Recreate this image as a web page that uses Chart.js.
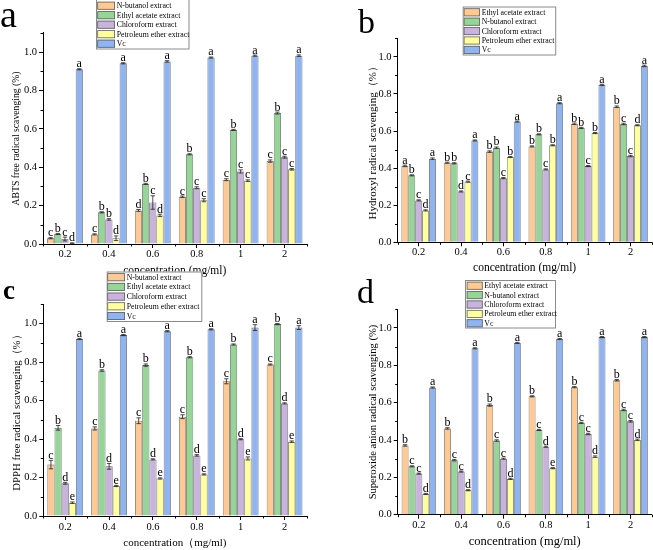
<!DOCTYPE html>
<html><head><meta charset="utf-8">
<script src="https://cdn.jsdelivr.net/npm/chart.js@4.4.1/dist/chart.umd.min.js"></script>
<style>
html,body{margin:0;padding:0;background:#fff;}
#wrap{position:relative;width:653px;height:550px;overflow:hidden;background:#fff;}
canvas{position:absolute;left:0;top:0;}
</style></head><body>
<div id="wrap">
<canvas id="ca" width="653" height="550"></canvas>
<canvas id="cb" width="653" height="550"></canvas>
<canvas id="cc" width="653" height="550"></canvas>
<canvas id="cd" width="653" height="550"></canvas>
</div>
<script>
// ---------- DATA ----------
const categories = ['0.2', '0.4', '0.6', '0.8', '1', '2'];
const seriesAC = ['N-butanol extract', 'Ethyl acetate extract', 'Chloroform extract', 'Petroleum ether extract', 'Vc'];
const seriesBD = ['Ethyl acetate extract', 'N-butanol extract', 'Chloroform extract', 'Petroleum ether extract', 'Vc'];
const yTicks = [0, 0.2, 0.4, 0.6, 0.8, 1.0];

// Panel a: ABTS
const abtsButanol = [0.030, 0.050, 0.175, 0.246, 0.335, 0.432];
const abtsEthyl   = [0.052, 0.165, 0.313, 0.467, 0.594, 0.682];
const abtsChloro  = [0.026, 0.128, 0.216, 0.293, 0.378, 0.452];
const abtsPetro   = [0.004, 0.030, 0.149, 0.228, 0.330, 0.389];
const abtsVc      = [0.910, 0.941, 0.951, 0.971, 0.981, 0.981];
const abtsButanolErr = [0.003, 0.003, 0.005, 0.004, 0.005, 0.006];
const abtsEthylErr   = [0.003, 0.003, 0.003, 0.003, 0.003, 0.005];
const abtsChloroErr  = [0.010, 0.004, 0.035, 0.005, 0.008, 0.005];
const abtsPetroErr   = [0.002, 0.012, 0.006, 0.008, 0.004, 0.004];
const abtsVcErr      = [0.003, 0.003, 0.004, 0.003, 0.003, 0.004];
const abtsButanolSig = ['c', 'c', 'd', 'c', 'c', 'c'];
const abtsEthylSig   = ['b', 'b', 'b', 'b', 'b', 'b'];
const abtsChloroSig  = ['c', 'b', 'c', 'c', 'c', 'c'];
const abtsPetroSig   = ['d', 'd', 'd', 'c', 'c', 'c'];
const abtsVcSig      = ['a', 'a', 'a', 'a', 'a', 'a'];

// Panel b: Hydroxyl
const ohEthyl   = [0.412, 0.429, 0.489, 0.517, 0.639, 0.731];
const ohButanol = [0.361, 0.426, 0.510, 0.582, 0.617, 0.638];
const ohChloro  = [0.226, 0.274, 0.346, 0.393, 0.411, 0.465];
const ohPetro   = [0.172, 0.327, 0.460, 0.523, 0.589, 0.631];
const ohVc      = [0.451, 0.549, 0.651, 0.750, 0.849, 0.951];
const ohEthylErr   = [0.004, 0.003, 0.004, 0.003, 0.004, 0.004];
const ohButanolErr = [0.003, 0.003, 0.004, 0.003, 0.003, 0.004];
const ohChloroErr  = [0.003, 0.003, 0.003, 0.003, 0.003, 0.004];
const ohPetroErr   = [0.003, 0.003, 0.003, 0.003, 0.003, 0.003];
const ohVcErr      = [0.004, 0.003, 0.003, 0.003, 0.003, 0.004];
const ohEthylSig   = ['a', 'b', 'b', 'b', 'b', 'b'];
const ohButanolSig = ['b', 'b', 'b', 'b', 'b', 'c'];
const ohChloroSig  = ['c', 'd', 'c', 'c', 'c', 'c'];
const ohPetroSig   = ['d', 'c', 'b', 'b', 'b', 'd'];
const ohVcSig      = ['a', 'a', 'a', 'a', 'a', 'a'];

// Panel c: DPPH
const dpphButanol = [0.267, 0.455, 0.495, 0.516, 0.700, 0.787];
const dpphEthyl   = [0.458, 0.756, 0.784, 0.825, 0.891, 0.997];
const dpphChloro  = [0.170, 0.258, 0.294, 0.315, 0.399, 0.585];
const dpphPetro   = [0.069, 0.156, 0.195, 0.216, 0.299, 0.386];
const dpphVc      = [0.920, 0.940, 0.960, 0.970, 0.979, 0.979];
const dpphButanolErr = [0.022, 0.008, 0.015, 0.010, 0.013, 0.003];
const dpphEthylErr   = [0.012, 0.004, 0.006, 0.003, 0.003, 0.003];
const dpphChloroErr  = [0.005, 0.015, 0.003, 0.004, 0.003, 0.003];
const dpphPetroErr   = [0.004, 0.003, 0.003, 0.003, 0.008, 0.004];
const dpphVcErr      = [0.003, 0.003, 0.003, 0.003, 0.015, 0.010];
const dpphButanolSig = ['c', 'c', 'c', 'c', 'c', 'c'];
const dpphEthylSig   = ['b', 'b', 'b', 'b', 'b', 'b'];
const dpphChloroSig  = ['d', 'd', 'd', 'd', 'd', 'd'];
const dpphPetroSig   = ['e', 'e', 'e', 'e', 'e', 'e'];
const dpphVcSig      = ['a', 'a', 'a', 'a', 'a', 'a'];

// Panel d: Superoxide anion
const soEthyl   = [0.371, 0.462, 0.587, 0.634, 0.683, 0.720];
const soButanol = [0.259, 0.292, 0.397, 0.454, 0.492, 0.561];
const soChloro  = [0.220, 0.231, 0.300, 0.364, 0.432, 0.500];
const soPetro   = [0.111, 0.131, 0.192, 0.249, 0.311, 0.401];
const soVc      = [0.681, 0.891, 0.920, 0.941, 0.951, 0.951];
const soEthylErr   = [0.004, 0.004, 0.006, 0.003, 0.003, 0.004];
const soButanolErr = [0.003, 0.004, 0.004, 0.003, 0.003, 0.004];
const soChloroErr  = [0.003, 0.003, 0.003, 0.003, 0.004, 0.004];
const soPetroErr   = [0.003, 0.003, 0.003, 0.003, 0.004, 0.004];
const soVcErr      = [0.003, 0.003, 0.003, 0.003, 0.003, 0.003];
const soEthylSig   = ['b', 'b', 'b', 'b', 'b', 'b'];
const soButanolSig = ['c', 'c', 'c', 'c', 'c', 'c'];
const soChloroSig  = ['c', 'c', 'c', 'd', 'c', 'c'];
const soPetroSig   = ['d', 'd', 'd', 'e', 'd', 'd'];
const soVcSig      = ['a', 'a', 'a', 'a', 'a', 'a'];

// ---------- STYLE ----------
const fills = ['#FFC993', '#96D497', '#C8B3DD', '#FFFF9F', '#8FB4F0'];
const edge = '#606060';
const SERIF = "'Liberation Serif', 'Times New Roman', serif";
Chart.defaults.font.family = SERIF;
Chart.defaults.color = '#000';

const overlay = {
  id: 'overlay',
  afterDatasetsDraw(chart) {
    const ctx = chart.ctx, ys = chart.scales.y;
    ctx.save();
    ctx.font = '12px ' + SERIF;
    ctx.textAlign = 'center';
    ctx.textBaseline = 'alphabetic';
    chart.data.datasets.forEach((ds, di) => {
      const meta = chart.getDatasetMeta(di);
      meta.data.forEach((bar, i) => {
        const v = ds.data[i], e = ds.errors[i];
        const yt = ys.getPixelForValue(v + e), yb = ys.getPixelForValue(Math.max(v - e, 0));
        ctx.strokeStyle = '#222'; ctx.lineWidth = 0.8;
        ctx.beginPath();
        ctx.moveTo(bar.x, yt); ctx.lineTo(bar.x, yb);
        ctx.moveTo(bar.x - 2.2, yt); ctx.lineTo(bar.x + 2.2, yt);
        ctx.moveTo(bar.x - 2.2, yb); ctx.lineTo(bar.x + 2.2, yb);
        ctx.stroke();
        ctx.fillStyle = '#000';
        ctx.fillText(ds.sig[i], bar.x, yt - 1.5);
      });
    });
    ctx.restore();
  },
  afterDraw(chart, args, o) {
    const ctx = chart.ctx, ys = chart.scales.y, xs = chart.scales.x;
    ctx.save();
    ctx.strokeStyle = '#000'; ctx.lineWidth = 1;
    // minor ticks
    ctx.beginPath();
    for (let k = 1; k <= 11; k += 2) {
      const py = Math.round(ys.getPixelForValue(k / 10)) + 0.5;
      ctx.moveTo(ys.right - 2.5, py); ctx.lineTo(ys.right, py);
    }
    const n = chart.data.labels.length;
    for (let i = 0; i <= n; i++) {
      let px;
      if (i === 0) px = xs.left; else if (i === n) px = xs.right;
      else px = (xs.getPixelForTick(i - 1) + xs.getPixelForTick(i)) / 2;
      px = Math.round(px) + 0.5;
      ctx.moveTo(px, xs.top); ctx.lineTo(px, xs.top + 2.5);
    }
    ctx.stroke();
    // legend
    const L = o.legend;
    ctx.fillStyle = '#fff';
    ctx.fillRect(L.x, L.y, L.w, L.h);
    ctx.strokeStyle = '#8a8a8a'; ctx.lineWidth = 1;
    ctx.strokeRect(L.x + 0.5, L.y + 0.5, L.w - 1, L.h - 1);
    ctx.font = L.font + 'px ' + SERIF;
    ctx.textAlign = 'left'; ctx.textBaseline = 'middle';
    chart.data.datasets.forEach((ds, di) => {
      const cy = L.row0 + di * L.step;
      ctx.fillStyle = ds.backgroundColor;
      ctx.fillRect(L.swX, cy - L.swH / 2, L.swW, L.swH);
      ctx.strokeStyle = edge; ctx.lineWidth = 0.8;
      ctx.strokeRect(L.swX + 0.4, cy - L.swH / 2 + 0.4, L.swW - 0.8, L.swH - 0.8);
      ctx.fillStyle = '#000';
      ctx.fillText(ds.label, L.txX, cy + 0.5);
    });
    // panel letter
    const P = o.panel;
    ctx.font = (P.bold ? 'bold ' : '') + P.font + 'px ' + SERIF;
    ctx.textAlign = 'left'; ctx.textBaseline = 'alphabetic';
    ctx.fillStyle = '#000';
    ctx.fillText(P.text, P.x, P.y);
    ctx.restore();
  }
};

function makeDatasets(names, vals, errs, sigs) {
  return names.map((nm, i) => ({
    label: nm, data: vals[i], errors: errs[i], sig: sigs[i],
    backgroundColor: fills[i], borderColor: edge, borderWidth: 0.8,
    categoryPercentage: 0.815, barPercentage: 1.0
  }));
}

function makeChart(id, g, datasets) {
  return new Chart(document.getElementById(id), {
    type: 'bar',
    data: { labels: categories, datasets },
    plugins: [overlay],
    options: {
      responsive: false, animation: false, events: [],
      layout: { padding: g.pad },
      plugins: {
        legend: { display: false }, tooltip: { enabled: false },
        overlay: { legend: g.legend, panel: g.panel }
      },
      scales: {
        x: {
          type: 'category', offset: true,
          grid: { display: true, drawOnChartArea: false, drawTicks: true, tickLength: 4, offset: false, color: '#000', lineWidth: 1 },
          border: { display: true, color: '#000', width: 1 },
          ticks: { font: { size: g.tickFont }, padding: g.xTickPad, color: '#000', maxRotation: 0, autoSkip: false },
          title: { display: true, text: g.xTitle, font: { size: g.xTitleFont }, padding: { top: 0, bottom: g.xTitlePadB }, color: '#000' },
          afterFit: s => { s.height = g.xHeight; }
        },
        y: {
          type: 'linear', min: 0, max: 1.1,
          grid: { display: true, drawOnChartArea: false, drawTicks: true, tickLength: 4, color: '#000', lineWidth: 1 },
          border: { display: true, color: '#000', width: 1 },
          ticks: { stepSize: 0.2, font: { size: g.tickFont }, padding: 2, color: '#000', callback: v => Number(v).toFixed(1) },
          afterBuildTicks: s => { s.ticks = yTicks.map(v => ({ value: v })); },
          title: { display: true, text: g.yTitle, font: { size: g.yTitleFont }, padding: { top: g.yTitlePadT, bottom: 0 }, color: '#000' },
          afterFit: s => { s.width = 35; }
        }
      }
    }
  });
}

// ---------- LAYOUT ----------
const geomA = {
  pad: { left: 8, right: 346.5, top: 32.8, bottom: 272 }, xHeight: 34,
  tickFont: 10.5, xTickPad: 0, xTitle: 'concentration (mg/ml)', xTitleFont: 11.5, xTitlePadB: 0,
  yTitle: 'ABTS free radical scavenging (%)', yTitleFont: 9.7, yTitlePadT: 3,
  legend: { x: 96, y: -1, w: 93.5, h: 50.5, row0: 5.7, step: 9.5, swX: 97.3, swW: 17.7, swH: 8, txX: 116.7, font: 7.8 },
  panel: { text: 'a', x: 0, y: 27, font: 38 }
};
const geomB = {
  pad: { left: 362.5, right: 1.3, top: 38.3, bottom: 275.2 }, xHeight: 32.5,
  tickFont: 10.5, xTickPad: 0, xTitle: 'concentration (mg/ml)', xTitleFont: 11.5, xTitlePadB: 0,
  yTitle: 'Hydroxyl radical scavenging（%）', yTitleFont: 11, yTitlePadT: 4,
  legend: { x: 462.7, y: 6.5, w: 93.5, h: 49, row0: 12.3, step: 9.4, swX: 463.7, swW: 16.3, swH: 8, txX: 481.7, font: 7.8 },
  panel: { text: 'b', x: 358, y: 33, font: 34 }
};
const geomC = {
  pad: { left: 8.3, right: 346.5, top: 304.3, bottom: 0 }, xHeight: 34,
  tickFont: 10.5, xTickPad: 0.5, xTitle: 'concentration（mg/ml)', xTitleFont: 11, xTitlePadB: 0,
  yTitle: 'DPPH free radical scavenging（%）', yTitleFont: 10.8, yTitlePadT: 2,
  legend: { x: 106.7, y: 271.5, w: 95.6, h: 50.5, row0: 277.2, step: 9.7, swX: 107.3, swW: 17.7, swH: 8, txX: 126.7, font: 7.8 },
  panel: { text: 'c', x: 3, y: 299, font: 27, bold: true }
};
const geomD = {
  pad: { left: 362.7, right: 1.3, top: 309.3, bottom: 1 }, xHeight: 34.3,
  tickFont: 10.5, xTickPad: 0, xTitle: 'concentration (mg/ml)', xTitleFont: 12.5, xTitlePadB: 0,
  yTitle: 'Superoxide anion radical scavenging (%)', yTitleFont: 10.6, yTitlePadT: 4,
  legend: { x: 465, y: 280, w: 91, h: 48.5, row0: 285.7, step: 9.4, swX: 466.7, swW: 16, swH: 8, txX: 484.3, font: 7.8 },
  panel: { text: 'd', x: 357, y: 303, font: 34 }
};

makeChart('ca', geomA, makeDatasets(seriesAC,
  [abtsButanol, abtsEthyl, abtsChloro, abtsPetro, abtsVc],
  [abtsButanolErr, abtsEthylErr, abtsChloroErr, abtsPetroErr, abtsVcErr],
  [abtsButanolSig, abtsEthylSig, abtsChloroSig, abtsPetroSig, abtsVcSig]));
makeChart('cb', geomB, makeDatasets(seriesBD,
  [ohEthyl, ohButanol, ohChloro, ohPetro, ohVc],
  [ohEthylErr, ohButanolErr, ohChloroErr, ohPetroErr, ohVcErr],
  [ohEthylSig, ohButanolSig, ohChloroSig, ohPetroSig, ohVcSig]));
makeChart('cc', geomC, makeDatasets(seriesAC,
  [dpphButanol, dpphEthyl, dpphChloro, dpphPetro, dpphVc],
  [dpphButanolErr, dpphEthylErr, dpphChloroErr, dpphPetroErr, dpphVcErr],
  [dpphButanolSig, dpphEthylSig, dpphChloroSig, dpphPetroSig, dpphVcSig]));
makeChart('cd', geomD, makeDatasets(seriesBD,
  [soEthyl, soButanol, soChloro, soPetro, soVc],
  [soEthylErr, soButanolErr, soChloroErr, soPetroErr, soVcErr],
  [soEthylSig, soButanolSig, soChloroSig, soPetroSig, soVcSig]));
</script>
</body></html>
